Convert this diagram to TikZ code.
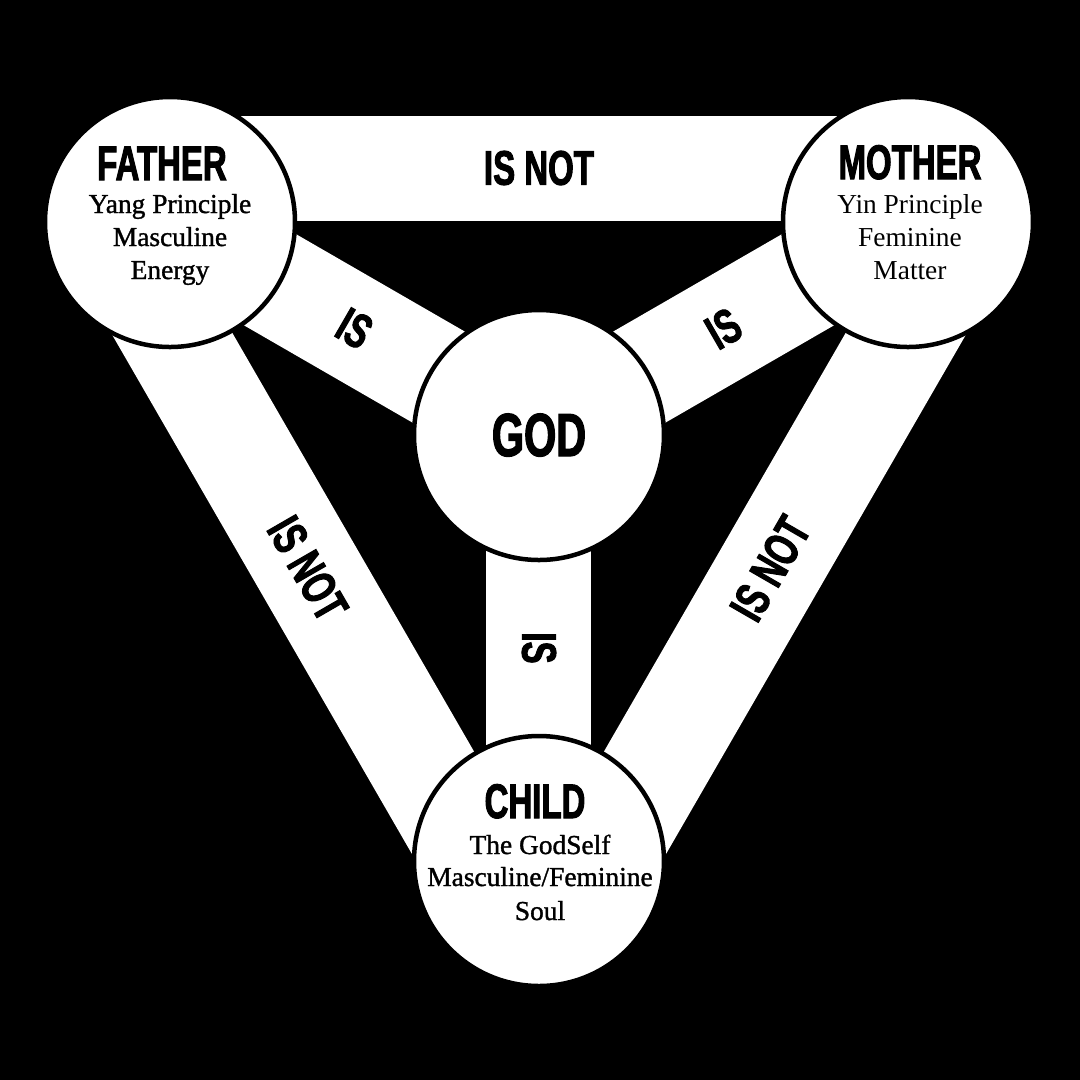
\documentclass[tikz,border=0pt]{standalone}
\usepackage{fontspec}
\usetikzlibrary{calc}
\newfontfamily\labelfont{Liberation Sans}[FakeStretch=0.68,FakeBold=2]
\newfontfamily\serifreg{Liberation Serif}
\newfontfamily\serifmed{Liberation Serif}[FakeBold=1.2]
\pgfdeclarelayer{bg}
\pgfsetlayers{bg,main}
\begin{document}
\begin{tikzpicture}[x=0.1mm,y=-0.1mm,
  circ/.style={circle, draw=black, fill=white, line width=0.45mm, minimum size=25mm, inner sep=0pt},
  band/.style={draw=white, line width=10.5mm},
  lbl/.style={text=black, inner sep=0pt, font=\labelfont\bfseries\fontsize{13.8pt}{14pt}\selectfont},
  title/.style={lbl, anchor=base},
  godlbl/.style={text=black, inner sep=0pt, anchor=base, font=\labelfont\bfseries\fontsize{17.3pt}{18pt}\selectfont},
  lineA/.style={text=black, inner sep=0pt, anchor=base, font=\serifmed\fontsize{7.8pt}{9pt}\selectfont},
  lineB/.style={text=black, inner sep=0pt, anchor=base, font=\serifreg\fontsize{7.8pt}{9pt}\selectfont}]
\begin{pgfonlayer}{bg}
  \fill[black] (0,0) rectangle (1080,1080);
\end{pgfonlayer}
\useasboundingbox (0,0) rectangle (1080,1080);
% circles
\node[circ] (father) at (170,222) {};
\node[circ] (mother) at (908,222) {};
\node[circ] (god) at (539,435) {};
\node[circ] (child) at (539,861) {};
% offset band ends
\coordinate (tf) at ($(father.center)!5.4mm!90:(mother.center)$);
\coordinate (tm) at ($(mother.center)!5.4mm!-90:(father.center)$);
\coordinate (lf) at ($(father.center)!5.4mm!-90:(child.center)$);
\coordinate (lc) at ($(child.center)!5.4mm!90:(father.center)$);
\coordinate (rm) at ($(mother.center)!5.4mm!90:(child.center)$);
\coordinate (rc) at ($(child.center)!5.4mm!-90:(mother.center)$);
\begin{pgfonlayer}{bg}
  \draw[band] (tf) -- (tm);
  \draw[band] (lf) -- (lc);
  \draw[band] (rm) -- (rc);
  \draw[band] (father.center) -- (god.center);
  \draw[band] (mother.center) -- (god.center);
  \draw[band] (god.center) -- (child.center);
\end{pgfonlayer}
% band labels
\path (tf) -- node[lbl] (isnottop) {IS NOT} (tm);
\path (lf) -- node[lbl, rotate=-60] (isnotleft) {IS NOT} (lc);
\path (rm) -- node[lbl, rotate=60] (isnotright) {IS NOT} (rc);
\path (father.center) -- node[lbl, rotate=-30] (isfg) {IS} (god.center);
\path (mother.center) -- node[lbl, rotate=30] (ismg) {IS} (god.center);
\path (god.center) -- node[lbl, rotate=-90] (isgc) {IS} (child.center);
% circle texts
\node[title] (fathert) at (162,180) {FATHER};
\node[lineA] (f1) at (170,213) {Yang Principle};
\node[lineA] (f2) at (170,246) {Masculine};
\node[lineA] (f3) at (170,279) {Energy};
\node[title] (mothert) at (910,179) {MOTHER};
\node[lineB] (m1) at (910,213) {Yin Principle};
\node[lineB] (m2) at (910,246) {Feminine};
\node[lineB] (m3) at (910,279) {Matter};
\node[godlbl] (godt) at (539,456) {GOD};
\node[title] (childt) at (535,818) {CHILD};
\node[lineA] (c1) at (540,854) {The GodSelf};
\node[lineA] (c2) at (540,886) {Masculine/Feminine};
\node[lineA] (c3) at (540,920) {Soul};
\end{tikzpicture}
\end{document}
